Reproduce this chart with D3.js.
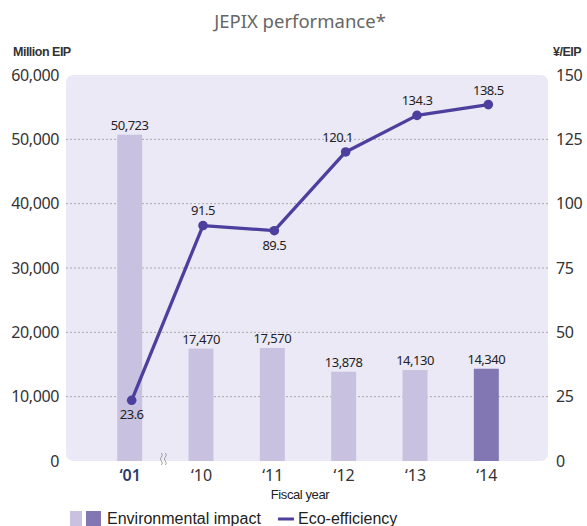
<!DOCTYPE html>
<html>
<head>
<meta charset="utf-8">
<script src="https://cdn.jsdelivr.net/npm/d3@7"></script>
<style>
  html, body { margin: 0; padding: 0; background: #fff; }
  svg { display: block; }
</style>
</head>
<body>
<svg id="chart" width="587" height="526"></svg>
<script>
// Fiscal years and series
const years = ["\u201801", "\u201810", "\u201811", "\u201812", "\u201813", "\u201814"];
const impact = [50723, 17470, 17570, 13878, 14130, 14340];
const impactLabels = ["50,723", "17,470", "17,570", "13,878", "14,130", "14,340"];
const efficiency = [23.6, 91.5, 89.5, 120.1, 134.3, 138.5];
const leftTicks = [0, 10000, 20000, 30000, 40000, 50000, 60000];
const rightTicks = [0, 25, 50, 75, 100, 125, 150];

const svg = d3.select("#chart");
const plot = { left: 66, right: 548, top: 75, bottom: 461 };

const x = d3.scalePoint().domain(years).range([94, 522]).padding(0.5);
const yL = d3.scaleLinear().domain([0, 60000]).range([plot.bottom, plot.top]);
const yR = d3.scaleLinear().domain([0, 150]).range([plot.bottom, plot.top]);
const barW = 25;

const tickFont = "'Noto Sans', 'Open Sans', sans-serif";
const armFont = "'Liberation Sans', Arial, sans-serif";

// Title
svg.append("text").attr("x", 300).attr("y", 28).attr("text-anchor", "middle")
  .attr("font-family", "'Noto Sans', sans-serif").attr("font-size", 18.5).attr("fill", "#666")
  .text("JEPIX performance*");

// Unit labels
svg.append("text").attr("x", 13).attr("y", 56).attr("font-family", armFont)
  .attr("font-size", 12.5).attr("font-weight", "bold").attr("fill", "#333")
  .attr("letter-spacing", -0.5).text("Million EIP");
svg.append("text").attr("x", 553).attr("y", 56).attr("font-family", armFont)
  .attr("font-size", 12.5).attr("font-weight", "bold").attr("fill", "#333")
  .attr("letter-spacing", -0.5).text("¥/EIP");

// Plot background
svg.append("rect").attr("x", plot.left).attr("y", plot.top)
  .attr("width", plot.right - plot.left).attr("height", plot.bottom - plot.top)
  .attr("rx", 7).attr("fill", "#ebe9f5");

// Dotted gridlines
svg.append("g").selectAll("line").data(leftTicks.filter(v => v > 0 && v < 60000)).join("line")
  .attr("x1", plot.left).attr("x2", plot.right)
  .attr("y1", d => yL(d)).attr("y2", d => yL(d))
  .attr("stroke", "#aaa").attr("stroke-width", 1).attr("stroke-dasharray", "2,2");

// Left axis
const axL = svg.append("g").attr("transform", `translate(${plot.left - 5},0)`)
  .call(d3.axisLeft(yL).tickValues(leftTicks).tickSize(0).tickPadding(2).tickFormat(d3.format(",")));
axL.select(".domain").remove();
axL.selectAll("text").attr("font-family", tickFont).attr("font-size", 16)
  .attr("fill", "#333").attr("letter-spacing", -0.4);

// Right axis
const axR = svg.append("g").attr("transform", `translate(${plot.right + 6},0)`)
  .call(d3.axisRight(yR).tickValues(rightTicks).tickSize(0).tickPadding(2));
axR.select(".domain").remove();
axR.selectAll("text").attr("font-family", tickFont).attr("font-size", 16)
  .attr("fill", "#333").attr("letter-spacing", -0.4);

// Bars
svg.append("g").selectAll("rect").data(impact).join("rect")
  .attr("x", (d, i) => x(years[i]) - barW / 2)
  .attr("y", d => yL(d))
  .attr("width", barW)
  .attr("height", d => plot.bottom - yL(d))
  .attr("fill", (d, i) => i === years.length - 1 ? "#8377b3" : "#c8c2e0");

// Bar value labels
svg.append("g").selectAll("text").data(impact).join("text")
  .attr("x", (d, i) => x(years[i]))
  .attr("y", d => yL(d) - 5)
  .attr("text-anchor", "middle")
  .attr("font-family", tickFont).attr("font-size", 13).attr("letter-spacing", -0.5)
  .attr("fill", "#222")
  .text((d, i) => impactLabels[i]);

// Axis break mark between '01 and '10
const breakX = (x(years[0]) + x(years[1])) / 2 - 2;
[-2, 2].forEach(off => {
  svg.append("path")
    .attr("d", `M${breakX + off},${plot.bottom - 8} q2,2 0,4 q-2,2 0,4 q2,2 0,4`)
    .attr("fill", "none").attr("stroke", "#999").attr("stroke-width", 0.9);
});

// Eco-efficiency line
const lx = (d, i) => x(years[i]) + 2;
const line = d3.line().x((d, i) => lx(d, i)).y(d => yR(d));
svg.append("path").datum(efficiency).attr("d", line)
  .attr("fill", "none").attr("stroke", "#4c3f9e").attr("stroke-width", 3.3)
  .attr("stroke-linejoin", "round");
svg.append("g").selectAll("circle").data(efficiency).join("circle")
  .attr("cx", (d, i) => lx(d, i)).attr("cy", d => yR(d)).attr("r", 4.8)
  .attr("fill", "#4c3f9e");

// Line value labels (offsets per point)
const lblDx = [0, 0, 0, -8, 0, 0];
const lblDy = [19, -11, 19, -10, -10, -10];
svg.append("g").selectAll("text").data(efficiency).join("text")
  .attr("x", (d, i) => lx(d, i) + lblDx[i])
  .attr("y", (d, i) => yR(d) + lblDy[i])
  .attr("text-anchor", "middle")
  .attr("font-family", tickFont).attr("font-size", 13).attr("letter-spacing", -0.5)
  .attr("fill", "#222")
  .text(d => d3.format(".1f")(d));

// X axis labels
const axX = svg.append("g").attr("transform", `translate(0,${plot.bottom + 4})`)
  .call(d3.axisBottom(x).tickSize(0).tickPadding(5));
axX.select(".domain").remove();
axX.selectAll("text").attr("font-family", tickFont).attr("font-size", 16)
  .attr("fill", (d, i) => i === 0 ? "#2a3b70" : "#333")
  .attr("font-weight", (d, i) => i === 0 ? 600 : "normal");

svg.append("text").attr("x", 300).attr("y", 499).attr("text-anchor", "middle")
  .attr("font-family", armFont).attr("font-size", 13).attr("letter-spacing", -0.4)
  .attr("fill", "#222").text("Fiscal year");

// Legend
const lg = svg.append("g");
lg.append("rect").attr("x", 70).attr("y", 511).attr("width", 12).attr("height", 15).attr("fill", "#c8c2e0");
lg.append("rect").attr("x", 86).attr("y", 511).attr("width", 15).attr("height", 15).attr("fill", "#8377b3");
lg.append("text").attr("x", 107).attr("y", 524).attr("font-family", armFont).attr("font-size", 16)
  .attr("fill", "#222").text("Environmental impact");
lg.append("line").attr("x1", 278).attr("x2", 294).attr("y1", 519).attr("y2", 519)
  .attr("stroke", "#4c3f9e").attr("stroke-width", 3);
lg.append("text").attr("x", 298).attr("y", 524).attr("font-family", armFont).attr("font-size", 16)
  .attr("fill", "#222").text("Eco-efficiency");
</script>
</body>
</html>
